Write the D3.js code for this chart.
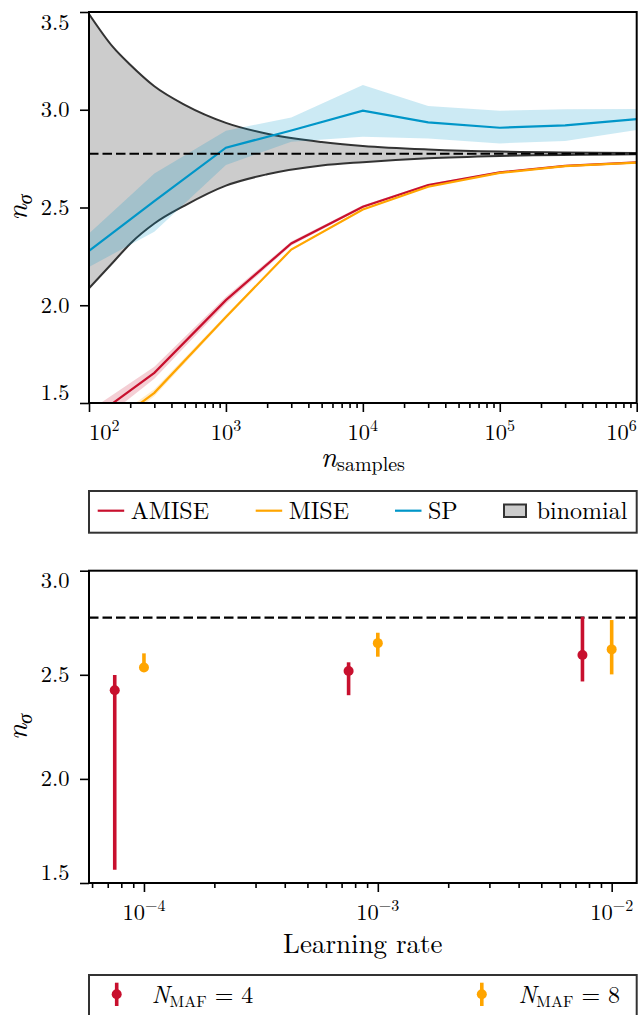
<!DOCTYPE html>
<html>
<head>
<meta charset="utf-8">
<script src="https://cdn.jsdelivr.net/npm/d3@7"></script>
<style>
    body { margin: 0; background: #fff; }
    svg { display: block; }
</style>
</head>
<body>
<svg id="chart" width="639" height="1015"></svg>
<script>
// ---- top panel data ----
const nSamples = [100, 300, 1000, 3000, 1e4, 3e4, 1e5, 3e5, 1e6];
const amise   = [1.41, 1.654, 2.026, 2.316, 2.504, 2.615, 2.680, 2.713, 2.731];
const amiseLo = [1.36, 1.624, 2.008, 2.306, 2.497, 2.610, 2.676, 2.710, 2.729];
const amiseHi = [1.46, 1.686, 2.044, 2.326, 2.511, 2.620, 2.684, 2.716, 2.733];
const mise    = [1.30, 1.552, 1.940, 2.285, 2.490, 2.606, 2.677, 2.712, 2.730];
const miseLo  = [1.27, 1.535, 1.930, 2.280, 2.486, 2.603, 2.675, 2.710, 2.729];
const miseHi  = [1.33, 1.570, 1.950, 2.290, 2.494, 2.609, 2.679, 2.714, 2.731];
const sp      = [2.278, 2.532, 2.806, 2.894, 2.995, 2.935, 2.908, 2.920, 2.952];
const spLo    = [2.196, 2.376, 2.717, 2.836, 2.862, 2.853, 2.828, 2.840, 2.896];
const spHi    = [2.367, 2.674, 2.893, 2.961, 3.126, 3.019, 2.995, 3.002, 3.004];

const binomN  = [100, 150, 200, 300, 500, 1000, 2000, 5000, 1e4, 3e4, 1e5, 1e6];
const binomHi = [3.49, 3.32, 3.23, 3.12, 3.025, 2.933, 2.877, 2.835, 2.815, 2.797, 2.786, 2.779];
const binomLo = [2.087, 2.22, 2.315, 2.418, 2.51, 2.612, 2.67, 2.715, 2.732, 2.752, 2.764, 2.773];

const nSigmaRef = 2.775;

// ---- bottom panel data ----
const lrMaf4 = [7.5e-5, 7.5e-4, 7.5e-3];
const maf4   = [2.426, 2.518, 2.595];
const maf4Lo = [1.564, 2.402, 2.468];
const maf4Hi = [2.499, 2.560, 2.779];
const lrMaf8 = [1e-4, 1e-3, 1e-2];
const maf8   = [2.535, 2.652, 2.622];
const maf8Lo = [2.514, 2.587, 2.502];
const maf8Hi = [2.603, 2.702, 2.763];

const topYTicks = [1.5, 2.0, 2.5, 3.0, 3.5];
const topXExps = [2, 3, 4, 5, 6];
const botYTicks = [1.5, 2.0, 2.5, 3.0];
const botXExps = [-4, -3, -2];

const red = '#C8102E', orange = '#FFA500', blue = '#0096C8';
const tickFont = 22.5, labelFont = 27, legendFont = 24;
const FONT = '"Latin Modern Roman", "Liberation Serif", serif';

const svg = d3.select('#chart');
const left = 89, right = 636.7;

// minor log ticks between decades, limited to the domain
function minorTicks(scale, kFrom, kTo) {
    const [a, b] = scale.domain();
    const out = [];
    for (let k = kFrom; k <= kTo; k++)
        for (let m = 2; m <= 9; m++) {
            const v = m * Math.pow(10, k);
            if (v > a && v < b) out.push(v);
        }
    return out;
}

function styleAxis(g) {
    g.select('.domain').remove();
    g.selectAll('.tick line').attr('stroke', '#000').attr('stroke-width', 1.6);
    g.selectAll('.tick text').remove();
}

function drawYAxis(y, ticks) {
    svg.append('g')
        .attr('transform', `translate(${left},0)`)
        .call(d3.axisLeft(y).tickValues(ticks).tickSize(9).tickFormat(''))
        .call(styleAxis);
    ticks.forEach((t, i) => {
        let dy = 7.3;
        if (i === 0) dy = -3;
        if (i === ticks.length - 1) dy = 17.5;
        svg.append('text')
            .attr('x', left - 19.5)
            .attr('y', y(t) + dy)
            .attr('text-anchor', 'end')
            .attr('font-size', tickFont)
            .text(d3.format('.1f')(t));
    });
}

function drawXAxis(x, exps, yPos, kFrom, kTo, alignEdges) {
    svg.append('g')
        .attr('transform', `translate(0,${yPos})`)
        .call(d3.axisBottom(x).tickValues(minorTicks(x, kFrom, kTo)).tickSize(5).tickFormat(''))
        .call(styleAxis);
    svg.append('g')
        .attr('transform', `translate(0,${yPos})`)
        .call(d3.axisBottom(x).tickValues(exps.map(e => Math.pow(10, e))).tickSize(9).tickFormat(''))
        .call(styleAxis);
    exps.forEach((e, i) => {
        let anchor = 'middle';
        if (alignEdges && i === 0) anchor = 'start';
        if (alignEdges && i === exps.length - 1) anchor = 'end';
        const t = svg.append('text')
            .attr('x', x(Math.pow(10, e)))
            .attr('y', yPos + 37)
            .attr('text-anchor', anchor)
            .attr('font-size', tickFont);
        t.append('tspan').text('10');
        t.append('tspan').attr('font-size', 16).attr('dy', -9)
            .text(e < 0 ? '\u2212' + Math.abs(e) : String(e));
    });
}

function yLabel(cy) {
    const t = svg.append('text')
        .attr('transform', `translate(27,${cy}) rotate(-90)`)
        .attr('text-anchor', 'middle')
        .attr('font-size', labelFont + 2);
    t.append('tspan').attr('font-style', 'italic').text('n');
    t.append('tspan').attr('font-style', 'italic').attr('font-size', 20).attr('dy', 5).text('\u03c3');
}

function frame(top, bottom) {
    svg.append('rect')
        .attr('x', left).attr('y', top)
        .attr('width', right - left).attr('height', bottom - top)
        .attr('fill', 'none').attr('stroke', '#000').attr('stroke-width', 2);
}

// ================= top panel =================
const topY0 = 12, topY1 = 403;
const x1 = d3.scaleLog().domain([1e2, 1e6]).range([left, right]);
const y1 = d3.scaleLinear().domain([1.5, 3.5]).range([topY1, topY0]);

svg.append('defs').append('clipPath').attr('id', 'clipTop')
    .append('rect')
    .attr('x', left).attr('y', topY0)
    .attr('width', right - left).attr('height', topY1 - topY0);

const g1 = svg.append('g').attr('clip-path', 'url(#clipTop)');

const binom = binomN.map((n, i) => ({ n, lo: binomLo[i], hi: binomHi[i] }));
g1.append('path')
    .datum(binom)
    .attr('fill', '#cccccc')
    .attr('d', d3.area().x(d => x1(d.n)).y0(d => y1(d.lo)).y1(d => y1(d.hi)).curve(d3.curveMonotoneX));
['lo', 'hi'].forEach(k => {
    g1.append('path')
        .datum(binom)
        .attr('fill', 'none')
        .attr('stroke', '#333')
        .attr('stroke-width', 2)
        .attr('d', d3.line().x(d => x1(d.n)).y(d => y1(d[k])).curve(d3.curveMonotoneX));
});

const series = [
    { color: red, mean: amise, lo: amiseLo, hi: amiseHi },
    { color: orange, mean: mise, lo: miseLo, hi: miseHi },
    { color: blue, mean: sp, lo: spLo, hi: spHi }
];

series.forEach(s => {
    const pts = nSamples.map((n, i) => ({ n, lo: s.lo[i], hi: s.hi[i] }));
    g1.append('path')
        .datum(pts)
        .attr('fill', s.color)
        .attr('fill-opacity', 0.2)
        .attr('d', d3.area().x(d => x1(d.n)).y0(d => y1(d.lo)).y1(d => y1(d.hi)));
});
series.forEach(s => {
    const pts = nSamples.map((n, i) => ({ n, m: s.mean[i] }));
    g1.append('path')
        .datum(pts)
        .attr('fill', 'none')
        .attr('stroke', s.color)
        .attr('stroke-width', 2.2)
        .attr('d', d3.line().x(d => x1(d.n)).y(d => y1(d.m)));
});

svg.append('line')
    .attr('x1', left).attr('x2', right)
    .attr('y1', y1(nSigmaRef)).attr('y2', y1(nSigmaRef))
    .attr('stroke', '#000').attr('stroke-width', 2.2)
    .attr('stroke-dasharray', '9.5,4');

frame(topY0, topY1);
drawYAxis(y1, topYTicks);
drawXAxis(x1, topXExps, topY1, 2, 5, true);
yLabel((topY0 + topY1) / 2);

const xl = svg.append('text')
    .attr('x', (left + right) / 2)
    .attr('y', 467)
    .attr('text-anchor', 'middle')
    .attr('font-size', labelFont + 2);
xl.append('tspan').attr('font-style', 'italic').text('n');
xl.append('tspan').attr('font-size', 20).attr('dy', 4).text('samples');

// top legend
svg.append('rect')
    .attr('x', left).attr('y', 491)
    .attr('width', right - left).attr('height', 41.7)
    .attr('fill', '#fff').attr('stroke', '#333').attr('stroke-width', 2);

const legTop = [
    { label: 'AMISE', color: red, x: 97.7 },
    { label: 'MISE', color: orange, x: 255.7 },
    { label: 'SP', color: blue, x: 395 }
];
legTop.forEach(d => {
    svg.append('line')
        .attr('x1', d.x).attr('x2', d.x + 26.5)
        .attr('y1', 510.7).attr('y2', 510.7)
        .attr('stroke', d.color).attr('stroke-width', 2.2);
    svg.append('text')
        .attr('x', d.x + 33).attr('y', 519)
        .attr('font-size', legendFont)
        .text(d.label);
});
svg.append('rect')
    .attr('x', 504).attr('y', 504.5)
    .attr('width', 22).attr('height', 12.5)
    .attr('fill', '#cccccc').attr('stroke', '#333').attr('stroke-width', 2);
svg.append('text')
    .attr('x', 536.7).attr('y', 519)
    .attr('font-size', legendFont)
    .text('binomial');

// ================= bottom panel =================
const botY0 = 570.7, botY1 = 883;
const x2 = d3.scaleLog().domain([Math.pow(10, -4.235), Math.pow(10, -1.893)]).range([left, right]);
const y2 = d3.scaleLinear().domain([1.5, 3.0]).range([botY1, botY0]);

svg.append('line')
    .attr('x1', left).attr('x2', right)
    .attr('y1', y2(nSigmaRef)).attr('y2', y2(nSigmaRef))
    .attr('stroke', '#000').attr('stroke-width', 2.2)
    .attr('stroke-dasharray', '9.5,4');

const groups = [
    { color: red, lr: lrMaf4, m: maf4, lo: maf4Lo, hi: maf4Hi },
    { color: orange, lr: lrMaf8, m: maf8, lo: maf8Lo, hi: maf8Hi }
];
groups.forEach(gr => {
    const pts = gr.lr.map((lr, i) => ({ lr, m: gr.m[i], lo: gr.lo[i], hi: gr.hi[i] }));
    svg.append('g').selectAll('line')
        .data(pts)
        .join('line')
        .attr('x1', d => x2(d.lr)).attr('x2', d => x2(d.lr))
        .attr('y1', d => y2(d.lo)).attr('y2', d => y2(d.hi))
        .attr('stroke', gr.color).attr('stroke-width', 3.6);
    svg.append('g').selectAll('circle')
        .data(pts)
        .join('circle')
        .attr('cx', d => x2(d.lr)).attr('cy', d => y2(d.m))
        .attr('r', 5)
        .attr('fill', gr.color);
});

frame(botY0, botY1);
drawYAxis(y2, botYTicks);
drawXAxis(x2, botXExps, botY1, -5, -2, false);
yLabel((botY0 + botY1) / 2);

svg.append('text')
    .attr('x', (left + right) / 2)
    .attr('y', 953.3)
    .attr('text-anchor', 'middle')
    .attr('font-size', labelFont)
    .text('Learning rate');

// bottom legend
svg.append('rect')
    .attr('x', left).attr('y', 975)
    .attr('width', right - left).attr('height', 60)
    .attr('fill', '#fff').attr('stroke', '#333').attr('stroke-width', 2);

const legBot = [
    { n: '4', color: red, x: 116.7, tx: 151.7 },
    { n: '8', color: orange, x: 481.8, tx: 518.5 }
];
legBot.forEach(d => {
    svg.append('line')
        .attr('x1', d.x).attr('x2', d.x)
        .attr('y1', 982.7).attr('y2', 1006)
        .attr('stroke', d.color).attr('stroke-width', 3.6);
    svg.append('circle')
        .attr('cx', d.x).attr('cy', 994.3).attr('r', 5)
        .attr('fill', d.color);
    const t = svg.append('text')
        .attr('x', d.tx).attr('y', 1003.3)
        .attr('font-size', legendFont);
    t.append('tspan').attr('font-style', 'italic').text('N');
    t.append('tspan').attr('font-size', 16).attr('dy', 3.5).text('MAF');
    t.append('tspan').attr('dy', -3.5).text(' = ' + d.n);
});

// all text in the LaTeX-like face
svg.selectAll('text').style('font-family', FONT);
</script>
</body>
</html>
